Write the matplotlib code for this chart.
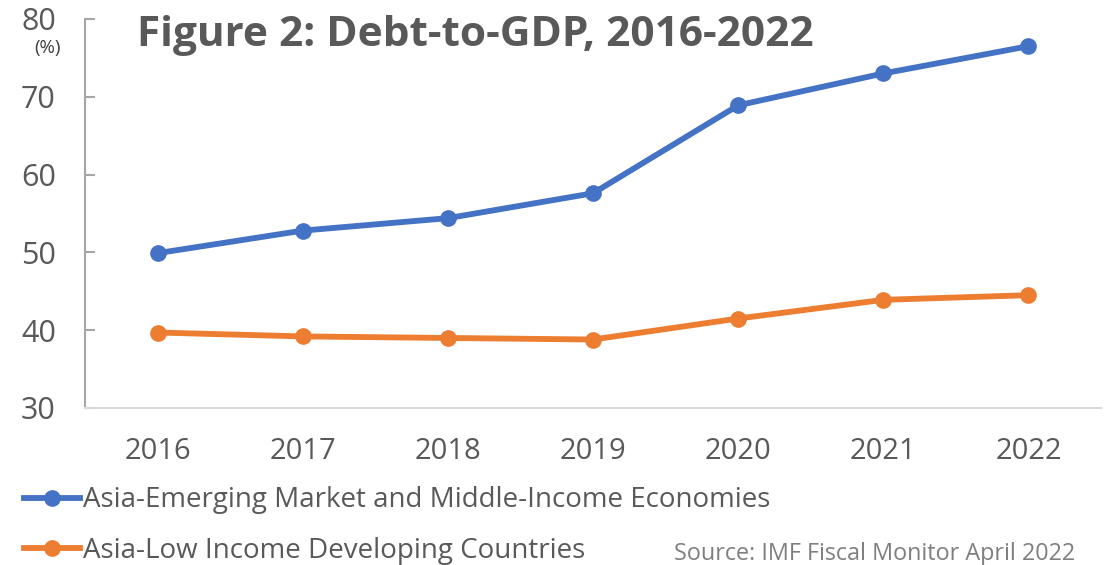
import matplotlib
matplotlib.use('Agg')
import matplotlib.pyplot as plt

years = ['2016', '2017', '2018', '2019', '2020', '2021', '2022']
emerging = [49.9, 52.8, 54.4, 57.6, 68.9, 73.0, 76.5]
low_income = [39.7, 39.2, 39.0, 38.8, 41.5, 43.9, 44.5]
series_names = ['Asia-Emerging Market and Middle-Income Economies',
                'Asia-Low Income Developing Countries']
yticks = [30, 40, 50, 60, 70, 80]

BLUE = '#4472C4'
ORANGE = '#ED7D31'
TEXT = '#595959'

plt.rcParams['font.family'] = ['Open Sans', 'DejaVu Sans']

fig = plt.figure(figsize=(11.07, 5.65), dpi=100)
ax = fig.add_axes([0.0768, 0.2779, 0.9178, 0.6885])

x = range(len(years))
ax.plot(x, emerging, color=BLUE, lw=4.2, marker='o', ms=11, label=series_names[0])
ax.plot(x, low_income, color=ORANGE, lw=4.2, marker='o', ms=11, label=series_names[1])

ax.set_xlim(-0.5, len(years) - 0.5)
ax.set_ylim(30, 80)
ax.set_xticks(list(x))
ax.set_xticklabels(years)
ax.set_yticks(yticks)

for s in ['top', 'right']:
    ax.spines[s].set_visible(False)
ax.spines['left'].set_color('#a6a6a6')
ax.spines['left'].set_linewidth(1.5)
ax.spines['bottom'].set_color('#d9d9d9')
ax.spines['bottom'].set_linewidth(1.5)

ax.tick_params(axis='y', direction='in', length=7, width=1.5, color='#a6a6a6',
               labelsize=22, labelcolor=TEXT, pad=21)
ax.tick_params(axis='x', length=0, labelsize=21, labelcolor=TEXT, pad=21)

# units label under the top tick
fig.text(0.0429, 0.915, '(%)', fontsize=13.5, color='#404040', ha='center', va='center')

fig.text(0.124, 0.918, 'Figure 2: Debt-to-GDP, 2016-2022', fontsize=30.5, fontweight='bold',
         color=TEXT, ha='left', va='baseline')

fig.legend(loc='center left', bbox_to_anchor=(0.022, 0.070), frameon=False,
           fontsize=20, labelcolor=TEXT, handlelength=2.0, handletextpad=0.12,
           labelspacing=0.8, borderaxespad=0, borderpad=0)

fig.text(0.971, 0.020, 'Source: IMF Fiscal Monitor April 2022', fontsize=16.8,
         color='#7f7f7f', ha='right', va='center')

fig.savefig('out.png', dpi=100)
